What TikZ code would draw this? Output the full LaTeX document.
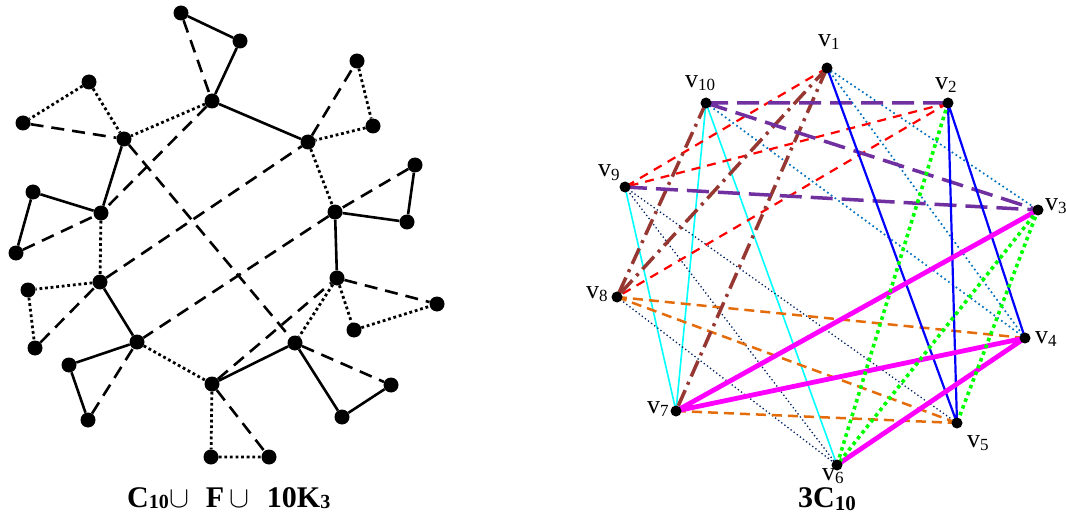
\documentclass[tikz,border=0pt]{standalone}
\usepackage{graphicx}
\usepackage{fontspec}
\setmainfont{Liberation Serif}
\usetikzlibrary{backgrounds}
\definecolor{cpurple}{RGB}{112,48,160}
\definecolor{cred}{RGB}{255,0,0}
\definecolor{cbrown}{RGB}{150,55,50}
\definecolor{csteel}{RGB}{0,112,192}
\definecolor{cblue}{RGB}{0,0,255}
\definecolor{cgreen}{RGB}{0,255,0}
\definecolor{cmag}{RGB}{255,0,255}
\definecolor{corange}{RGB}{228,108,10}
\definecolor{ccyan}{RGB}{0,255,255}
\definecolor{cnavy}{RGB}{0,32,96}
\newcommand\vlab[1]{{\fontsize{26}{26}\selectfont v}\raisebox{-3pt}{\fontsize{17}{17}\selectfont #1}}
\newcommand\bigcupsym{\scalebox{1.2}{$\cup$}}
\begin{document}
\begin{tikzpicture}[x=1pt,y=-1pt,
  ldot/.style={circle,fill=black,inner sep=0pt,minimum size=15pt},
  rdot/.style={circle,fill=black,inner sep=0pt,minimum size=11pt},
  lsolid/.style={line width=2.6pt},
  ldash/.style={line width=2.6pt,dash pattern=on 13pt off 8pt},
  ldotted/.style={line width=2.8pt,dash pattern=on 2.8pt off 2.8pt},
  epurple/.style={cpurple,line width=3.5pt,dash pattern=on 22pt off 9pt},
  ered/.style={cred,line width=2.2pt,dash pattern=on 9pt off 7pt},
  ebrown/.style={cbrown,line width=3.5pt,dash pattern=on 17pt off 6pt on 3pt off 6pt},
  esteel/.style={csteel,line width=1.7pt,dash pattern=on 1.7pt off 3pt},
  eblue/.style={cblue,line width=2.2pt},
  egreen/.style={cgreen,line width=3.6pt,dash pattern=on 3.6pt off 3.6pt},
  emag/.style={cmag,line width=4.8pt},
  eorange/.style={corange,line width=2.5pt,dash pattern=on 10pt off 6pt},
  ecyan/.style={ccyan,line width=1.6pt},
  enavy/.style={cnavy,line width=1.3pt,dash pattern=on 1.3pt off 2.6pt},
  vl/.style={anchor=base west,inner sep=0pt},
]
\useasboundingbox (0,0) rectangle (1066,516);
% ---------- left graph nodes
\node[ldot] (A) at (181,13) {};
\node[ldot] (B) at (240,41) {};
\node[ldot] (C) at (212,101) {};
\node[ldot] (D) at (89,82) {};
\node[ldot] (E) at (23,123) {};
\node[ldot] (F) at (124,139) {};
\node[ldot] (G) at (33,192) {};
\node[ldot] (H) at (101,213) {};
\node[ldot] (I) at (16,253) {};
\node[ldot] (J) at (357,61) {};
\node[ldot] (K) at (373,126) {};
\node[ldot] (L) at (308,142) {};
\node[ldot] (M) at (415,165) {};
\node[ldot] (N) at (335,212) {};
\node[ldot] (O) at (407,222) {};
\node[ldot] (Q) at (100,282) {};
\node[ldot] (R) at (28,290) {};
\node[ldot] (S) at (35,348) {};
\node[ldot] (T) at (137,342) {};
\node[ldot] (U) at (69,365) {};
\node[ldot] (V) at (88,420) {};
\node[ldot] (W) at (212,384) {};
\node[ldot] (X) at (211,457) {};
\node[ldot] (Y) at (337,278) {};
\node[ldot] (Z) at (437,304) {};
\node[ldot] (AA) at (354,330) {};
\node[ldot] (BB) at (295,343) {};
\node[ldot] (CC) at (391,385) {};
\node[ldot] (DD) at (342,417) {};
\node[ldot] (EE) at (269,457) {};
% ---------- right graph nodes
\node[rdot] (v1) at (827,68) {};
\node[rdot] (v2) at (948,103) {};
\node[rdot] (v3) at (1038,210) {};
\node[rdot] (v4) at (1025,338) {};
\node[rdot] (v5) at (957,423) {};
\node[rdot] (v6) at (837,465) {};
\node[rdot] (v7) at (676,411) {};
\node[rdot] (v8) at (617,297) {};
\node[rdot] (v9) at (625,187) {};
\node[rdot] (v10) at (706,103) {};
% ---------- right labels
\node[vl] (t1) at (818,47) {\vlab{1}};
\node[vl] (t2) at (935,90) {\vlab{2}};
\node[vl] (t3) at (1045,210) {\vlab{3}};
\node[vl] (t4) at (1035,343) {\vlab{4}};
\node[vl] (t5) at (967,447) {\vlab{5}};
\node[vl] (t6) at (822,480) {\vlab{6}};
\node[vl] (t7) at (647,413) {\vlab{7}};
\node[vl] (t8) at (586,298) {\vlab{8}};
\node[vl] (t9) at (598,177) {\vlab{9}};
\node[vl] (t10) at (685,88) {\vlab{10}};
% ---------- captions
\node[vl] (cap1) at (127,507) {\fontsize{30}{30}\selectfont\bfseries C\raisebox{-1.5pt}{\fontsize{20}{20}\selectfont 10}\hspace{1pt}\bigcupsym\hspace{16pt}F\hspace{5pt}\bigcupsym\hspace{18pt}10K\raisebox{-1.5pt}{\fontsize{20}{20}\selectfont 3}};
\node[vl] (cap2) at (798,507) {\fontsize{30}{30}\selectfont\bfseries 3C\raisebox{-3pt}{\fontsize{21}{21}\selectfont 10}};
\begin{scope}[on background layer]
% left: solid
\draw[lsolid] (A)--(B) (B)--(C) (C)--(L) (F)--(H) (G)--(H) (G)--(I) (Q)--(T) (T)--(U) (U)--(V)
  (W)--(BB) (BB)--(DD) (DD)--(CC) (N)--(O) (O)--(M) (N)--(Y);
% left: dashed
\draw[ldash] (A)--(C) (E)--(F) (I)--(H) (S)--(Q) (V)--(T) (W)--(EE) (BB)--(CC) (Y)--(Z)
  (M)--(N) (L)--(J) (C)--(H) (Q)--(L) (N)--(T) (F)--(BB) (W)--(Y);
% left: dotted
\draw[ldotted] (D)--(E) (D)--(F) (C)--(F) (H)--(Q) (Q)--(R) (R)--(S) (T)--(W) (W)--(X)
  (X)--(EE) (Y)--(AA) (AA)--(Z) (Y)--(BB) (L)--(N) (J)--(K) (K)--(L);
% right edges
\draw[ecyan] (v9.center)--(v7.center) (v10.center)--(v7.center) (v10.center)--(v6.center);
\draw[enavy] (v9.center)--(v6.center) (v9.center)--(v5.center) (v8.center)--(v6.center);
\draw[esteel] (v1.center)--(v3.center) (v1.center)--(v4.center) (v10.center)--(v4.center);
\draw[ered] (v1.center)--(v9.center) (v2.center)--(v9.center) (v2.center)--(v8.center);
\draw[eorange] (v8.center)--(v4.center) (v8.center)--(v5.center) (v7.center)--(v5.center);
\draw[ebrown] (v1.center)--(v7.center) (v1.center)--(v8.center) (v10.center)--(v8.center);
\draw[epurple] (v10.center)--(v2.center) (v10.center)--(v3.center) (v9.center)--(v3.center);
\draw[eblue] (v1.center)--(v5.center) (v2.center)--(v5.center) (v2.center)--(v4.center);
\draw[emag] (v3.center)--(v7.center) (v4.center)--(v7.center) (v4.center)--(v6.center);
\draw[egreen] (v2.center)--(v6.center) (v3.center)--(v6.center) (v3.center)--(v5.center);
\end{scope}
\end{tikzpicture}
\end{document}
